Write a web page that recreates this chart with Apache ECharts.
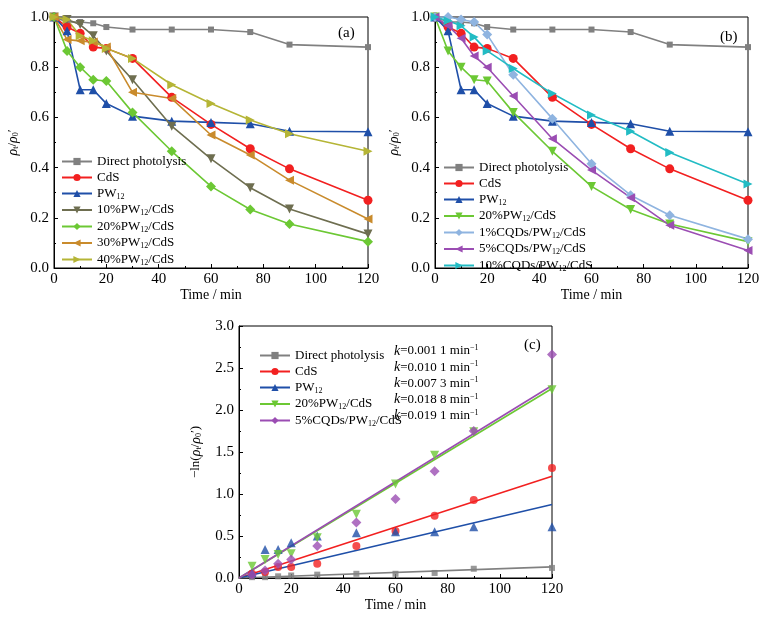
<!DOCTYPE html>
<html><head><meta charset="utf-8">
<script src="https://cdn.jsdelivr.net/npm/echarts@6/dist/echarts.min.js"></script>
<style>html,body{margin:0;padding:0;background:#fff}#c{width:770px;height:626px}</style>
</head><body><div id="c"></div>
<script>
const times = [0, 5, 10, 15, 20, 30, 45, 60, 75, 90, 120];
const direct = [1, 0.98, 0.98, 0.975, 0.96, 0.95, 0.95, 0.95, 0.94, 0.89, 0.88];
const cds = [1, 0.96, 0.935, 0.88, 0.875, 0.835, 0.68, 0.572, 0.475, 0.395, 0.27];
const pw12 = [1, 0.945, 0.71, 0.71, 0.655, 0.605, 0.585, 0.58, 0.575, 0.545, 0.543];
const pw10 = [1, 0.99, 0.97, 0.925, 0.865, 0.75, 0.565, 0.435, 0.32, 0.235, 0.135];
const pw20 = [1, 0.865, 0.8, 0.75, 0.745, 0.62, 0.465, 0.325, 0.233, 0.175, 0.105];
const pw30 = [1, 0.91, 0.905, 0.9, 0.88, 0.70, 0.675, 0.53, 0.45, 0.35, 0.195];
const pw40 = [1, 0.99, 0.925, 0.905, 0.875, 0.835, 0.73, 0.655, 0.59, 0.535, 0.465];
const cqd1 = [1, 1.0, 0.99, 0.98, 0.93, 0.77, 0.595, 0.415, 0.29, 0.21, 0.115];
const cqd5 = [1, 0.965, 0.915, 0.845, 0.80, 0.685, 0.515, 0.39, 0.28, 0.17, 0.07];
const cqd10 = [1, 0.985, 0.965, 0.92, 0.865, 0.795, 0.695, 0.61, 0.545, 0.46, 0.335];
const timesC = [5, 10, 15, 20, 30, 45, 60, 75, 90, 120];
const lnDirect = [0.01, 0.01, 0.02, 0.03, 0.04, 0.05, 0.05, 0.06, 0.11, 0.12];
const lnCdS = [0.05, 0.07, 0.13, 0.13, 0.17, 0.38, 0.56, 0.74, 0.93, 1.31];
const lnPW12 = [0.06, 0.34, 0.34, 0.42, 0.50, 0.54, 0.55, 0.55, 0.61, 0.61];
const lnPW20 = [0.14, 0.22, 0.28, 0.29, 0.48, 0.76, 1.12, 1.46, 1.74, 2.24];
const lnCQD5 = [0.04, 0.09, 0.17, 0.22, 0.38, 0.66, 0.94, 1.27, 1.75, 2.66];
const kValues = [0.0011, 0.0101, 0.0073, 0.0188, 0.0191];
const kLabels = ['0.001 1', '0.010 1', '0.007 3', '0.018 8', '0.019 1'];

const F = 'Liberation Serif';
const C = {gray:'#808080', red:'#f22020', blue:'#1f4fa8', olive:'#6e6e50', green:'#6cc834', orange:'#c98b2c', yellow:'#b5b536', lblue:'#8fb4e0', purple:'#9b4db3', cyan:'#22bcc4'};
const rich = {
  n:{fontFamily:F,fontSize:13,color:'#000'},
  s:{fontFamily:F,fontSize:8,color:'#000',verticalAlign:'bottom',padding:[6,0,0,0]},
  i:{fontFamily:F,fontSize:14,fontStyle:'italic',color:'#000'},
  p:{fontFamily:F,fontSize:8,color:'#000',padding:[0,0,6,0]}
};
function fmtName(name){
  name = name.replace(/\u200b/g,'');
  return name.split('12').map(s=>'{n|'+s+'}').join('{s|12}');
}
const grids = [
  {left:54, top:17, width:314, height:251},
  {left:435, top:17, width:313, height:251},
  {left:239, top:326, width:313, height:252}
];
function xAx(i){return {type:'value',gridIndex:i,min:0,max:120,interval:20,name:'Time / min',nameLocation:'middle',nameGap:20,
  nameTextStyle:{fontFamily:F,fontSize:14,color:'#000'},
  axisLine:{lineStyle:{color:'#000',width:1}},axisTick:{inside:true,length:4,lineStyle:{color:'#000'}},
  minorTick:{show:true,splitNumber:2,length:2,lineStyle:{color:'#000'}},splitLine:{show:false},
  axisLabel:{fontFamily:F,fontSize:15,color:'#000',margin:4}};}
function yAx(i,max,interval,dec,nameR,gap){return {type:'value',gridIndex:i,min:0,max:max,interval:interval,
  name:nameR,nameLocation:'middle',nameGap:gap,nameRotate:90,nameTextStyle:{rich:rich},
  axisLine:{lineStyle:{color:'#000',width:1}},axisTick:{inside:true,length:4,lineStyle:{color:'#000'}},
  minorTick:{show:true,splitNumber:2,length:2,lineStyle:{color:'#000'}},splitLine:{show:false},
  axisLabel:{fontFamily:F,fontSize:15,color:'#000',margin:5,formatter:v=>v.toFixed(dec)}};}
const yName = '{i|ρ}{s|t}{n|/}{i|ρ}{s|0}{n|′}';
const yNameC = '{n|−ln(}{i|ρ}{s|t}{n|/}{i|ρ}{s|0}{n|′)}';

function ln(name,data,color,sym,rot,idx,size){
  return {type:'line',name:name,xAxisIndex:idx,yAxisIndex:idx,data:times.map((t,j)=>[t,data[j]]),
    symbol:sym,symbolRotate:rot||0,symbolSize:size||8,color:color,lineStyle:{width:1.6,color:color},itemStyle:{color:color},z:3};
}
const series = [
  ln('Direct photolysis',direct,C.gray,'rect',0,0,6),
  ln('CdS',cds,C.red,'circle',0,0,9),
  ln('PW12',pw12,C.blue,'triangle',0,0,9),
  ln('10%PW12/CdS',pw10,C.olive,'triangle',180,0,9),
  ln('20%PW12/CdS',pw20,C.green,'diamond',0,0,10),
  ln('30%PW12/CdS',pw30,C.orange,'triangle',90,0,9),
  ln('40%PW12/CdS',pw40,C.yellow,'triangle',-90,0,9),
  ln('Direct photolysis\u200b',direct,C.gray,'rect',0,1,6),
  ln('CdS\u200b',cds,C.red,'circle',0,1,9),
  ln('PW12\u200b',pw12,C.blue,'triangle',0,1,9),
  ln('20%PW12/CdS\u200b',pw20,C.green,'triangle',180,1,9),
  ln('1%CQDs/PW12/CdS',cqd1,C.lblue,'diamond',0,1,10),
  ln('5%CQDs/PW12/CdS',cqd5,C.purple,'triangle',90,1,9),
  ln('10%CQDs/PW12/CdS',cqd10,C.cyan,'triangle',-90,1,9)
];
const cNames = ['Direct photolysis','CdS','PW12','20%PW12/CdS','5%CQDs/PW12/CdS'].map(s=>s+'\u200b\u200b');
const cData = [lnDirect,lnCdS,lnPW12,lnPW20,lnCQD5];
const cCol = [C.gray,C.red,C.blue,C.green,C.purple];
const cSym = [['rect',0,6],['circle',0,8],['triangle',0,9],['triangle',180,9],['diamond',0,10]];
cNames.forEach((nm,j)=>{
  series.push({type:'line',name:nm,xAxisIndex:2,yAxisIndex:2,data:[[0,0],[120,kValues[j]*120]],
    symbol:cSym[j][0],symbolRotate:cSym[j][1],symbolSize:cSym[j][2],showSymbol:false,color:cCol[j],
    lineStyle:{width:1.6,color:cCol[j]},itemStyle:{color:cCol[j]}});
  series.push({type:'scatter',name:nm+'s',xAxisIndex:2,yAxisIndex:2,data:timesC.map((t,i)=>[t,cData[j][i]]),
    symbol:cSym[j][0],symbolRotate:cSym[j][1],symbolSize:cSym[j][2],itemStyle:{color:cCol[j]},z:4});
});
function legend(names,left,top){return {data:names,orient:'vertical',left:left,top:top,itemGap:3,itemWidth:30,itemHeight:9,
  selectedMode:false,textStyle:{rich:rich,fontFamily:F,fontSize:13},formatter:fmtName};}
const option = {
  animation:false,
  grid:grids.map(g=>Object.assign({show:true,borderColor:'#000',borderWidth:1},g)),
  xAxis:[xAx(0),xAx(1),xAx(2)],
  yAxis:[yAx(0,1,0.2,1,yName,34),yAx(1,1,0.2,1,yName,34),yAx(2,3,0.5,1,yNameC,36)],
  legend:[
    legend(series.slice(0,7).map(s=>s.name),56,150),
    legend(series.slice(7,14).map(s=>s.name),438,156),
    legend(cNames,254,344)
  ],
  graphic:[
    {type:'text',left:338,top:26,style:{text:'(a)',font:'15px '+F,fill:'#000'}},
    {type:'text',left:720,top:30,style:{text:'(b)',font:'15px '+F,fill:'#000'}},
    {type:'text',left:524,top:338,style:{text:'(c)',font:'15px '+F,fill:'#000'}}
  ].concat(kLabels.map((k,j)=>({type:'text',left:394,top:344+j*16.2,
    style:{text:'{i|k}{n|='+k+' min}{p|−1}',rich:rich}}))),
  series:series
};
echarts.init(document.getElementById('c')).setOption(option);
</script></body></html>
